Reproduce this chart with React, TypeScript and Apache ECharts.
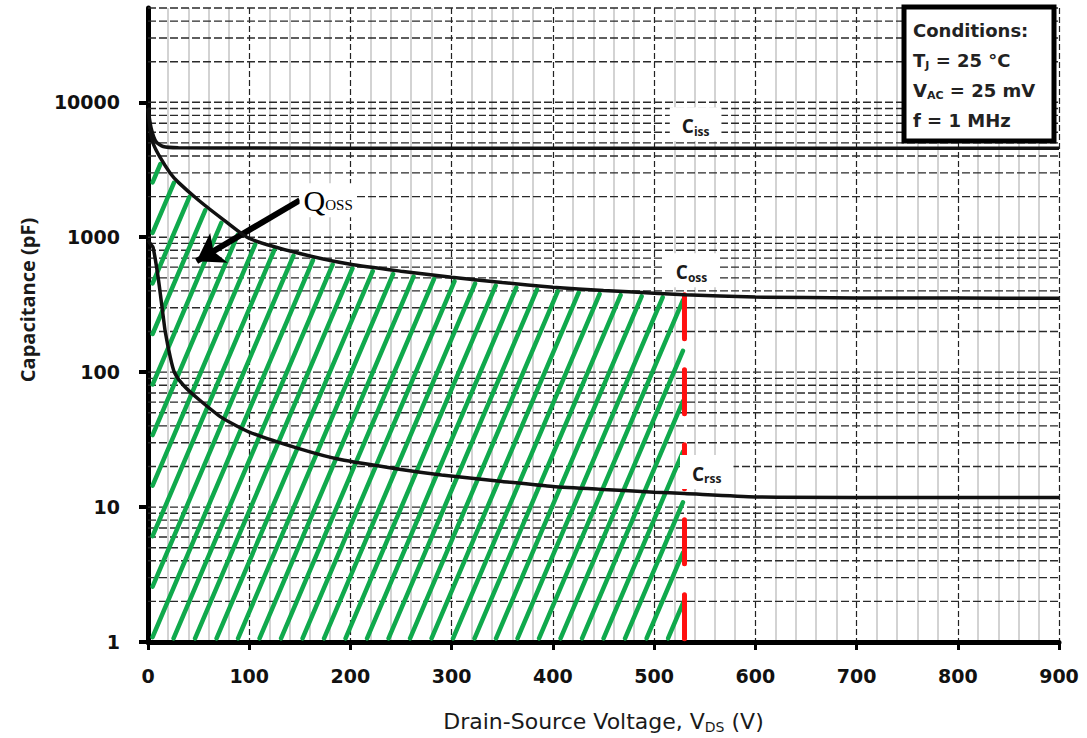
import { useEffect, useRef } from 'react';
import * as echarts from 'echarts';

// ---- data ----
const cissV = [0, 3, 8, 15, 30, 100, 300, 600, 900];
const cissC = [9000, 6500, 5100, 4700, 4600, 4580, 4570, 4560, 4560];

const cossV = [0, 2, 5, 12, 22, 30, 50, 75, 100, 150, 200, 250, 300, 350, 400, 450, 500, 530, 600, 700, 800, 900];
const cossC = [9000, 6500, 4970, 3900, 2980, 2550, 1880, 1340, 980, 757, 630, 560, 505, 462, 426, 403, 385, 375, 360, 355, 354, 353];

const crssV = [0, 3, 5, 10, 15, 17, 22, 26, 35, 50, 73, 100, 150, 190, 250, 290, 350, 400, 450, 500, 530, 600, 700, 900];
const crssC = [950, 880, 840, 506, 260, 200, 129, 100, 80, 63, 46, 36, 27, 22.5, 19, 17.3, 15.5, 14.2, 13.5, 12.9, 12.6, 11.9, 11.8, 11.8];

const QOSS_V = 530; // integration limit of Qoss
const X_MIN = 0;
const X_MAX = 900;
const X_STEP = 100;
const Y_MIN = 1;
const Y_MAX = 50000;
const Y_TICKS = [1, 10, 100, 1000, 10000];
const MANTISSAS = [1, 2, 3, 4, 5, 6, 7, 8, 9];
const GRID_VALUES: number[] = [];
Y_TICKS.forEach((d) => MANTISSAS.forEach((m) => {
  const v = d * m;
  if (v > Y_MIN && v <= Y_MAX) GRID_VALUES.push(v);
}));

// label anchors [V, C]
const CISS_LABEL = [541, 6870];
const COSS_LABEL = [537, 570];
const CRSS_LABEL = [552, 18.2];
const QOSS_LABEL = [178, 1880];
const ARROW_FROM = [150, 1880];
const ARROW_TO = [48, 665];

const TICK_FONT = 'DejaVu Sans';
const GREEN = '#10a94c';

export default function App() {
  const ref = useRef<HTMLDivElement>(null);
  useEffect(() => {
    if (!ref.current) return;
    const chart = echarts.init(ref.current, null, { renderer: 'svg' });
    const cossAtQ = cossC[cossV.indexOf(QOSS_V)];

    const hatchRender = (params: any, api: any) => {
      const pts = cossV.map((v, i) => api.coord([v, cossC[i]]));
      const [xL, yB] = api.coord([X_MIN, Y_MIN]);
      const xR = api.coord([QOSS_V, Y_MIN])[0];
      const curveY = (x: number) => {
        for (let i = 0; i < pts.length - 1; i++) {
          if (x >= pts[i][0] && x <= pts[i + 1][0]) {
            const t = (x - pts[i][0]) / (pts[i + 1][0] - pts[i][0] || 1);
            return pts[i][1] + t * (pts[i + 1][1] - pts[i][1]);
          }
        }
        return pts[pts.length - 1][1];
      };
      const k = 2.35;
      const step = 21.5;
      const inset = 4;
      const norm = Math.sqrt(1 + k * k);
      const children: any[] = [];
      for (let b = xL - 234; b < xR; b += step) {
        const lineY = (x: number) => yB - k * (x - b);
        let x1 = Math.max(b, xL + 3);
        if (lineY(x1) <= curveY(x1)) continue;
        let x2: number;
        if (lineY(xR) >= curveY(xR)) {
          x2 = xR;
        } else {
          let lo = x1;
          let hi = xR;
          for (let it = 0; it < 40; it++) {
            const mid = (lo + hi) / 2;
            if (lineY(mid) > curveY(mid)) lo = mid; else hi = mid;
          }
          x2 = lo;
        }
        const len = (x2 - x1) * norm;
        if (len < 2 * inset + 4) continue;
        const d = inset / norm;
        x1 += d;
        x2 -= d;
        children.push({
          type: 'line',
          shape: { x1, y1: lineY(x1), x2, y2: lineY(x2) },
          style: { stroke: GREEN, lineWidth: 4.5, lineCap: 'round' },
        });
      }
      return { type: 'group', children };
    };

    const hgridRender = (params: any, api: any) => {
      const y = api.coord([X_MIN, api.value(1)])[1];
      const xL = api.coord([X_MIN, Y_MIN])[0];
      const xR = api.coord([X_MAX, Y_MIN])[0];
      return {
        type: 'line',
        shape: { x1: xL, y1: y, x2: xR, y2: y },
        style: { stroke: '#2a2a2a', lineWidth: 1.4, lineDash: [8, 3] },
      };
    };

    const curveLabel = (main: string, sub: string, coord: number[]) => ({
      coord,
      symbol: 'rect',
      symbolSize: 0,
      label: {
        show: true,
        position: 'inside',
        formatter: `{c|${main}}{s|${sub}}`,
        backgroundColor: '#fff',
        padding: [8, 12, 4, 12],
        rich: {
          c: { fontFamily: 'Open Sans', fontWeight: 'bold', fontSize: 19, color: '#1a1a1a' },
          s: { fontFamily: 'Open Sans', fontWeight: 'bold', fontSize: 12, color: '#1a1a1a', padding: [10, 0, 0, 0] },
        },
      },
    });

    const option: any = {
      animation: false,
      grid: { left: 148, right: 28, top: 8, bottom: 96, containLabel: false, outerBoundsMode: 'none' },
      xAxis: {
        type: 'value',
        min: X_MIN,
        max: X_MAX,
        interval: X_STEP,
        name: 'Drain-Source Voltage, V{sub|DS} (V)',
        nameLocation: 'middle',
        nameGap: 66,
        nameTextStyle: {
          fontFamily: 'DejaVu Sans', fontSize: 22, fontWeight: 'normal', color: '#1a1a1a',
          rich: { sub: { fontFamily: 'DejaVu Sans', fontSize: 14, fontWeight: 'normal', color: '#1a1a1a', padding: [12, 0, 0, 0] } },
        },
        axisLine: { lineStyle: { color: '#000', width: 5 } },
        axisTick: { length: 8, lineStyle: { color: '#000', width: 3 } },
        axisLabel: { margin: 24, color: '#111', fontFamily: TICK_FONT, fontWeight: 'bold', fontSize: 19 },
        splitLine: { show: true, lineStyle: { color: '#222', width: 1.2, type: [6, 3] } },
        minorTick: { show: false, splitNumber: 5 },
        minorSplitLine: { show: true, lineStyle: { color: '#c4c4c4', width: 1.5 } },
      },
      yAxis: {
        type: 'log',
        logBase: 10,
        min: Y_MIN,
        max: Y_MAX,
        axisLine: { lineStyle: { color: '#000', width: 5 } },
        axisTick: { customValues: Y_TICKS, length: 9, lineStyle: { color: '#000', width: 4 } },
        axisLabel: {
          customValues: Y_TICKS,
          margin: 28,
          color: '#111',
          fontFamily: TICK_FONT,
          fontWeight: 'bold',
          fontSize: 19,
          formatter: (v: number) => String(Math.round(v)),
        },
        splitLine: { show: false },
      },
      graphic: [
        {
          type: 'text',
          x: 27,
          y: 300,
          rotation: Math.PI / 2,
          style: {
            text: 'Capacitance (pF)',
            fontFamily: 'Open Sans',
            fontWeight: 'bold',
            fontSize: 20,
            fill: '#1a1a1a',
            align: 'center',
            verticalAlign: 'middle',
          },
        },
        {
          type: 'rect',
          z: 100,
          shape: { x: 904, y: 7, width: 150, height: 134 },
          style: { fill: '#fff', stroke: '#000', lineWidth: 5 },
        },
        {
          type: 'text',
          z: 101,
          x: 913,
          y: 75,
          style: {
            text: '{b|Conditions:}\n{b|T}{s|J}{b| = 25 °C}\n{b|V}{s|AC}{b| = 25 mV}\n{b|f = 1 MHz}',
            verticalAlign: 'middle',
            lineHeight: 30,
            rich: {
              b: { fontFamily: TICK_FONT, fontWeight: 'bold', fontSize: 18, fill: '#222', lineHeight: 30 },
              s: { fontFamily: TICK_FONT, fontWeight: 'bold', fontSize: 11, fill: '#222', lineHeight: 30, padding: [10, 0, 0, 0] },
            },
          },
        },
      ],
      series: [
        {
          type: 'custom',
          name: 'hgrid',
          silent: true,
          z: 1,
          encode: { x: 0, y: 1 },
          data: GRID_VALUES.map((v) => [X_MIN, v]),
          renderItem: hgridRender,
        },
        {
          type: 'custom',
          name: 'Qoss hatch',
          silent: true,
          z: 3,
          encode: { x: 0, y: 1 },
          data: [[X_MIN, Y_MIN]],
          renderItem: hatchRender,
        },
        {
          type: 'line',
          name: 'Qoss limit',
          z: 4,
          silent: true,
          symbol: 'none',
          data: [[QOSS_V, cossAtQ], [QOSS_V, Y_MIN]],
          lineStyle: { color: '#ff1010', width: 5, type: [44, 31], cap: 'round' },
        },
        {
          type: 'line',
          name: 'Ciss',
          z: 5,
          symbol: 'none',
          smooth: 0.2,
          data: cissV.map((v, i) => [v, cissC[i]]),
          lineStyle: { color: '#111', width: 3.5 },
          markPoint: { data: [curveLabel('C', 'iss', CISS_LABEL)] },
        },
        {
          type: 'line',
          name: 'Coss',
          z: 5,
          symbol: 'none',
          smooth: 0.2,
          data: cossV.map((v, i) => [v, cossC[i]]),
          lineStyle: { color: '#111', width: 3.5 },
          markPoint: {
            data: [
              curveLabel('C', 'oss', COSS_LABEL),
              {
                coord: QOSS_LABEL,
                symbol: 'rect',
                symbolSize: 0,
                label: {
                  show: true,
                  position: 'inside',
                  formatter: '{q|Q}{s|OSS}',
                  backgroundColor: '#fff',
                  padding: [2, 4, 2, 4],
                  rich: {
                    q: { fontFamily: 'Liberation Serif', fontSize: 30, color: '#000' },
                    s: { fontFamily: 'Liberation Serif', fontSize: 15, color: '#000', padding: [10, 0, 0, 0] },
                  },
                },
              },
            ],
          },
          markLine: {
            silent: true,
            symbol: ['none', 'arrow'],
            symbolSize: 26,
            label: { show: false },
            lineStyle: { color: '#000', width: 6, type: 'solid' },
            data: [[{ coord: ARROW_FROM }, { coord: ARROW_TO }]],
          },
        },
        {
          type: 'line',
          name: 'Crss',
          z: 5,
          symbol: 'none',
          smooth: 0.2,
          data: crssV.map((v, i) => [v, crssC[i]]),
          lineStyle: { color: '#111', width: 3.5 },
          markPoint: { data: [curveLabel('C', 'rss', CRSS_LABEL)] },
        },
      ],
    };
    chart.setOption(option);
    return () => chart.dispose();
  }, []);
  return (
    <div
      ref={ref}
      style={{ position: 'fixed', left: 0, top: 0, width: 1087, height: 738, background: '#fff' }}
    />
  );
}
